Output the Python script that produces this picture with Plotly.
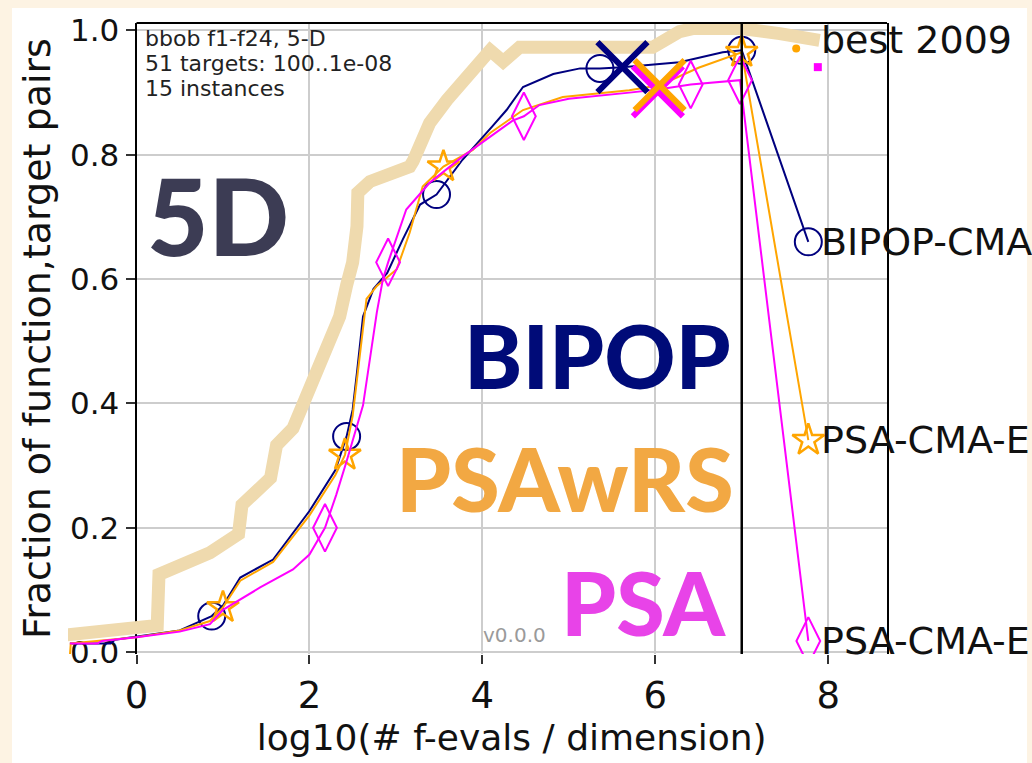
import plotly.graph_objects as go

# ---------------- data ----------------
best2009_x = [-0.80, 0.24, 0.26, 0.85, 1.18, 1.22, 1.55, 1.62, 1.81, 1.97, 2.12, 2.35, 2.43, 2.50,
              2.55, 2.56, 2.70, 3.16, 3.20, 3.39, 3.59, 3.82, 3.97, 4.09, 4.24, 4.43, 5.97, 6.28,
              6.43, 7.00, 7.44, 7.90]
best2009_y = [0.028, 0.043, 0.125, 0.160, 0.190, 0.237, 0.280, 0.333, 0.360, 0.413, 0.460, 0.540,
              0.590, 0.627, 0.685, 0.739, 0.757, 0.781, 0.790, 0.851, 0.888, 0.925, 0.952, 0.968,
              0.950, 0.973, 0.973, 0.998, 1.003, 1.003, 0.995, 0.984]

bipop_x = [-0.77, -0.30, -0.25, 0.00, 0.50, 0.87, 1.00, 1.20, 1.58, 2.00, 2.30, 2.43, 2.50, 2.55,
           2.62, 2.74, 2.90, 3.08, 3.28, 3.47, 3.77, 4.11, 4.28, 4.47, 4.82, 5.13, 5.36, 5.62,
           6.28, 6.78, 7.00, 7.77]
bipop_y = [0.014, 0.014, 0.020, 0.025, 0.035, 0.058, 0.075, 0.120, 0.149, 0.227, 0.293, 0.347,
           0.390, 0.450, 0.540, 0.584, 0.610, 0.664, 0.720, 0.736, 0.792, 0.845, 0.872, 0.909,
           0.930, 0.939, 0.939, 0.941, 0.949, 0.965, 0.968, 0.660]
bipop_mx = [0.87, 2.43, 3.47, 5.36, 7.00, 7.77]
bipop_my = [0.058, 0.347, 0.736, 0.939, 0.968, 0.660]

psawrs_x = [-0.77, -0.76, 0.00, 0.50, 0.85, 1.00, 1.20, 1.58, 2.00, 2.30, 2.41, 2.50, 2.66, 2.78,
            3.01, 3.16, 3.31, 3.55, 3.89, 4.09, 4.47, 4.93, 5.70, 6.05, 6.50, 6.80, 7.00, 7.77]
psawrs_y = [-0.005, 0.014, 0.024, 0.035, 0.050, 0.072, 0.115, 0.145, 0.220, 0.285, 0.317, 0.380,
            0.568, 0.589, 0.616, 0.675, 0.749, 0.781, 0.808, 0.835, 0.872, 0.893, 0.904, 0.912,
            0.940, 0.955, 0.965, 0.341]
psawrs_mx = [1.00, 2.41, 3.55, 7.00, 7.77]
psawrs_my = [0.072, 0.317, 0.781, 0.965, 0.341]

psa_x = [-0.77, -0.45, -0.40, 0.00, 0.50, 0.85, 1.00, 1.43, 1.81, 2.00, 2.18, 2.31, 2.43, 2.62,
         2.78, 2.85, 2.91, 3.12, 3.39, 3.77, 4.35, 4.48, 4.66, 5.00, 5.70, 6.03, 6.41, 6.98, 7.77]
psa_y = [0.014, 0.014, 0.018, 0.024, 0.033, 0.045, 0.068, 0.104, 0.133, 0.157, 0.200, 0.253,
         0.307, 0.397, 0.547, 0.600, 0.627, 0.712, 0.755, 0.797, 0.855, 0.862, 0.880, 0.890,
         0.900, 0.905, 0.913, 0.920, 0.018]
psa_mx = [2.18, 2.91, 4.48, 6.41, 6.98, 7.77]
psa_my = [0.200, 0.627, 0.862, 0.913, 0.920, 0.018]

# median max-evals crosses and extra end points
cross_x = {"BIPOP": 5.62, "PSA": 6.03, "PSAwRS": 6.05}
cross_y = {"BIPOP": 0.941, "PSA": 0.902, "PSAwRS": 0.912}
extra_orange = (7.63, 0.971)
extra_magenta = (7.88, 0.941)
max_evals_x = 7.0
label_x = 7.77

x_ticks = [0, 2, 4, 6, 8]
y_ticks = [0.0, 0.2, 0.4, 0.6, 0.8, 1.0]
y_ticktext = ["0.0", "0.2", "0.4", "0.6", "0.8", "1.0"]
info_lines = ["bbob f1-f24, 5-D", "51 targets: 100..1e-08", "15 instances"]
end_labels = ["best 2009", "BIPOP-CMA", "PSA-CMA-E", "PSA-CMA-E"]

# ---------------- styling ----------------
NAVY = "#00007f"
ORANGE = "#ffa500"
MAGENTA = "#ff00ff"
TAN = "#efdaae"
W, H = 1032, 763
L, R, T, B = 68, 145, 22, 106
PW, PH = W - L - R, H - T - B
FRAME_LEFT_PX = 136.5
d0 = (FRAME_LEFT_PX - L) / PW
XMAX = 8.68
x2min = -d0 / (1 - d0) * XMAX
YR = [-0.003, 1.012]
FONT = "DejaVu Sans"
GRID = "#cdcdcd"


def px2paper_x(px):
    return (px - L) / PW


def px2paper_y(py):
    return 1 - (py - T) / PH


fig = go.Figure()

# empty trace so that the framed subplot (axes, grid, ticks) is drawn
fig.add_trace(go.Scatter(x=[], y=[], xaxis="x", yaxis="y", showlegend=False, hoverinfo="skip"))

common = dict(xaxis="x2", yaxis="y2", hoverinfo="skip", showlegend=False)
fig.add_trace(go.Scatter(x=best2009_x, y=best2009_y, mode="lines",
                         line=dict(color=TAN, width=13), **common))
fig.add_trace(go.Scatter(x=bipop_x, y=bipop_y, mode="lines",
                         line=dict(color=NAVY, width=2), **common))
fig.add_trace(go.Scatter(x=bipop_mx, y=bipop_my, mode="markers",
                         marker=dict(symbol="circle-open", size=27, color=NAVY,
                                     line=dict(width=2, color=NAVY)), **common))
fig.add_trace(go.Scatter(x=psawrs_x, y=psawrs_y, mode="lines",
                         line=dict(color=ORANGE, width=2), **common))
fig.add_trace(go.Scatter(x=psawrs_mx, y=psawrs_my, mode="markers",
                         marker=dict(symbol="star-open", size=24, color=ORANGE,
                                     line=dict(width=2.5, color=ORANGE)), **common))
fig.add_trace(go.Scatter(x=psa_x, y=psa_y, mode="lines",
                         line=dict(color=MAGENTA, width=2), **common))
fig.add_trace(go.Scatter(x=psa_mx, y=psa_my, mode="markers",
                         marker=dict(symbol="diamond-tall-open", size=34, color=MAGENTA,
                                     line=dict(width=2, color=MAGENTA)), **common))
for name, col in [("BIPOP", NAVY), ("PSA", MAGENTA), ("PSAwRS", ORANGE)]:
    fig.add_trace(go.Scatter(x=[cross_x[name]], y=[cross_y[name]], mode="markers",
                             marker=dict(symbol="x-thin", size=50, color=col,
                                         line=dict(width=6, color=col)), **common))
fig.add_trace(go.Scatter(x=[extra_orange[0]], y=[extra_orange[1]], mode="markers",
                         marker=dict(symbol="circle", size=8, color=ORANGE), **common))
fig.add_trace(go.Scatter(x=[extra_magenta[0]], y=[extra_magenta[1]], mode="markers",
                         marker=dict(symbol="square", size=8, color=MAGENTA), **common))

shapes = [
    # white card on cream background
    dict(type="rect", xref="paper", yref="paper", layer="below",
         x0=px2paper_x(12), x1=px2paper_x(1027), y0=px2paper_y(H + 5), y1=px2paper_y(7),
         fillcolor="white", line=dict(width=0)),
    # top spine
    dict(type="line", xref="paper", yref="paper", x0=d0, x1=1, y0=1, y1=1,
         line=dict(color="black", width=2)),
    # max evals line
    dict(type="line", xref="x2", yref="paper", x0=max_evals_x, x1=max_evals_x, y0=0, y1=1,
         layer="above", line=dict(color="black", width=2.5)),
]

annotations = []
for i, line in enumerate(info_lines):
    annotations.append(dict(xref="paper", yref="paper", x=px2paper_x(143), y=px2paper_y(38 + 25 * i),
                            xanchor="left", yanchor="middle", text=line, showarrow=False,
                            font=dict(family=FONT, size=22, color="#222")))
annotations.append(dict(xref="paper", yref="paper", x=px2paper_x(481), y=px2paper_y(638),
                        xanchor="left", yanchor="middle", text="v0.0.0", showarrow=False,
                        font=dict(family=FONT, size=20, color="#9a9a9a")))
end_ys = [best2009_y[-1], bipop_y[-1], psawrs_y[-1], psa_y[-1]]
for lab, ey in zip(end_labels, end_ys):
    annotations.append(dict(xref="x2", yref="y2", x=label_x, y=ey, xanchor="left", yanchor="middle",
                            xshift=11, text=lab, showarrow=False,
                            font=dict(family=FONT, size=38, color="#111")))

big = [("5D", "#3c3c54", 218, 215, "center", 106),
       ("BIPOP", "#000b78", 733, 356, "right", 88),
       ("PSAwRS", "#f2a843", 736, 480, "right", 88),
       ("PSA", "#e843e8", 728, 605, "right", 88)]
for txt, col, px, py, anc, sz in big:
    annotations.append(dict(xref="paper", yref="paper", x=px2paper_x(px), y=px2paper_y(py),
                            xanchor=anc, yanchor="middle", text=txt, showarrow=False,
                            font=dict(family="Lato", size=sz, color=col, weight=900)))

fig.update_layout(
    width=W, height=H,
    margin=dict(l=L, r=R, t=T, b=B, pad=0),
    paper_bgcolor="#fdf3e3",
    plot_bgcolor="rgba(0,0,0,0)",
    showlegend=False,
    shapes=shapes,
    annotations=annotations,
    xaxis=dict(domain=[d0, 1], range=[0, XMAX], anchor="y", tickvals=x_ticks,
               ticks="outside", ticklen=9, tickwidth=1.5, tickcolor="#333",
               showgrid=True, gridcolor=GRID, gridwidth=1.5, zeroline=False,
               showline=False, tickfont=dict(family=FONT, size=37, color="#111"),
               title=dict(text="log10(# f-evals / dimension)", standoff=8,
                          font=dict(family=FONT, size=36, color="#111"))),
    yaxis=dict(domain=[0, 1], range=YR, anchor="x", tickvals=y_ticks, ticktext=y_ticktext,
               ticks="outside", ticklen=9, tickwidth=1.5, tickcolor="#333",
               showgrid=True, gridcolor=GRID, gridwidth=1.5, zeroline=False,
               showline=True, linecolor="black", linewidth=2, mirror=True,
               tickfont=dict(family=FONT, size=31, color="#111"),
               title=dict(text="Fraction of function,target pairs", standoff=8,
                          font=dict(family=FONT, size=38, color="#111"))),
    xaxis2=dict(domain=[0, 1], range=[x2min, XMAX], anchor="y2", visible=False),
    yaxis2=dict(domain=[0, 1], range=YR, anchor="x2", visible=False),
)

fig.write_html("out.html", config={"displayModeBar": False},
               post_script="document.body.style.margin='0';")
